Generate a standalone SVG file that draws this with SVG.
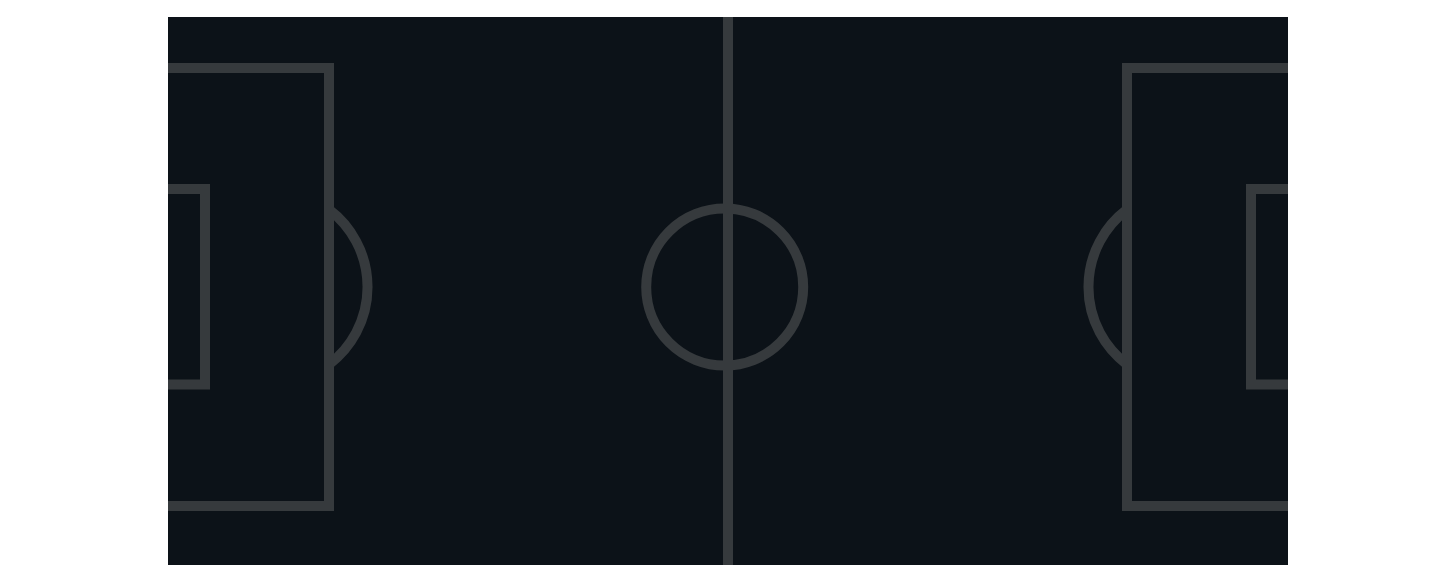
<svg xmlns="http://www.w3.org/2000/svg" width="1455" height="582" viewBox="0 0 1455 582">
<defs>
<style>
.ln{fill:none;stroke:#363a3d;stroke-width:10}
</style>
<clipPath id="pc"><rect x="168" y="17" width="1120" height="548"/></clipPath>
</defs>
<rect width="1455" height="582" fill="#ffffff"/>
<rect x="168" y="17" width="1120" height="548" fill="#0c1218"/>
<g clip-path="url(#pc)">
<g id="left-penalty-arc"><path class="ln" d="M 329 209.6 A 97 97 0 0 1 329 364.4"/></g>
<g id="right-penalty-arc"><path class="ln" d="M 1127 209.6 A 97 97 0 0 0 1127 364.4"/></g>
<g id="left-penalty-box"><rect class="ln" x="120" y="68" width="209" height="438"/></g>
<g id="left-six-yard-box"><rect class="ln" x="120" y="189" width="85" height="195.5"/></g>
<g id="right-penalty-box"><rect class="ln" x="1127" y="68" width="209" height="438"/></g>
<g id="right-six-yard-box"><rect class="ln" x="1251" y="189" width="85" height="195.5"/></g>
<g id="center-circle"><circle class="ln" cx="724.7" cy="287" r="78.5"/></g>
<g id="halfway-line"><line class="ln" x1="728" y1="0" x2="728" y2="600"/></g>
</g>
</svg>
